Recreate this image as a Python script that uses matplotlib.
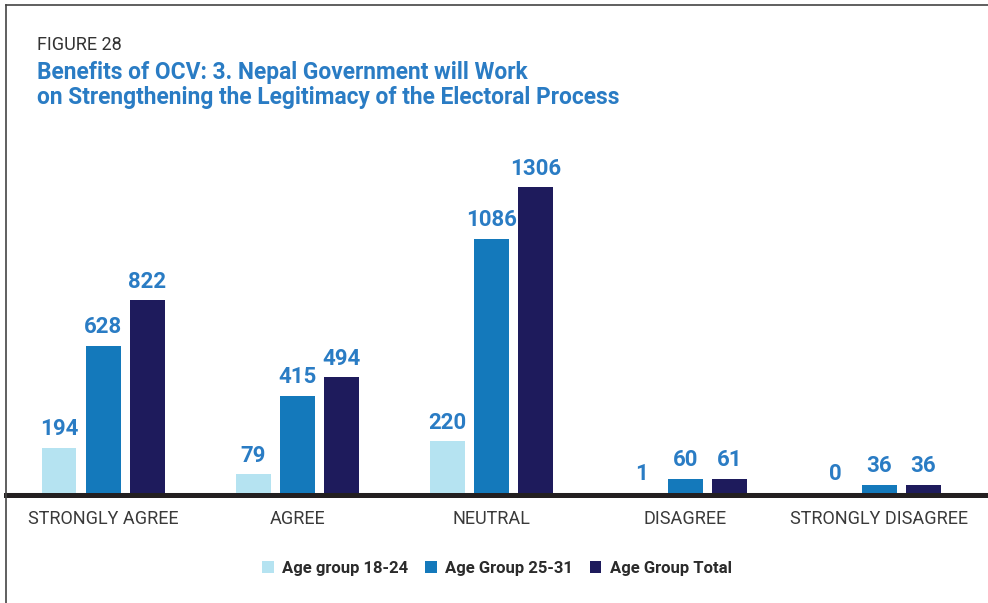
import matplotlib.pyplot as plt
import numpy as np
from matplotlib.lines import Line2D
from matplotlib.patches import Patch

categories = ["STRONGLY AGREE", "AGREE", "NEUTRAL", "DISAGREE", "STRONGLY DISAGREE"]
series_names = ["Age group 18-24", "Age Group 25-31", "Age Group Total"]
age_18_24 = [194, 79, 220, 1, 0]
age_25_31 = [628, 415, 1086, 60, 36]
age_total = [822, 494, 1306, 61, 36]

colors = ["#b5e3f1", "#1479bb", "#1e1b5c"]
label_blue = "#2a7cc4"

plt.rcParams["font.family"] = ["Roboto", "DejaVu Sans"]

fig = plt.figure(figsize=(9.88, 6.03), dpi=100)
ax = fig.add_axes([6 / 988, 110 / 603, 982 / 988, 373 / 603])

x = np.arange(len(categories))
width = 0.18
offset = 0.227

for i, (vals, col) in enumerate(zip([age_18_24, age_25_31, age_total], colors)):
    pos = x + (i - 1) * offset
    ax.bar(pos, vals, width, color=col, zorder=2)
    for p, v in zip(pos, vals):
        ax.annotate(str(v), (p, v), xytext=(0, 9), textcoords="offset points",
                    ha="center", va="baseline", color=label_blue,
                    fontsize=16, fontweight="bold")

ax.set_xlim(-0.5, 4.56)
ax.set_ylim(0, 1592)
# thick baseline sitting just under the bars
ax.axhline(-10, color="#231f20", lw=3.6, zorder=3, clip_on=False)
ax.axhline(0, color="#bbbbbb", lw=0.8, zorder=1, clip_on=False)
for s in ax.spines.values():
    s.set_visible(False)
ax.set_yticks([])
ax.set_xticks(x)
ax.set_xticklabels(categories, fontsize=13, color="#3a3a3a")
ax.tick_params(axis="x", length=0, pad=12)

# frame lines around the figure
fig.add_artist(Line2D([6 / 988, 6 / 988], [0, 1 - 5 / 603], color="#444444", lw=1.2))
fig.add_artist(Line2D([6 / 988, 1], [1 - 5 / 603, 1 - 5 / 603], color="#444444", lw=1.2))

fig.text(37 / 988, 1 - 50 / 603, "FIGURE 28", fontsize=13, color="#333333")
fig.text(37 / 988, 1 - 79 / 603, "Benefits of OCV: 3. Nepal Government will Work",
         fontsize=16.4, fontweight="bold", color="#2a7cc4")
fig.text(37 / 988, 1 - 104 / 603, "on Strengthening the Legitimacy of the Electoral Process",
         fontsize=16.4, fontweight="bold", color="#2a7cc4")

handles = [Patch(facecolor=c) for c in colors]
leg = fig.legend(handles, series_names, loc="center", bbox_to_anchor=(497 / 988, 1 - 568 / 603),
                 ncol=3, frameon=False, handlelength=0.7, handleheight=0.7,
                 handletextpad=0.5, columnspacing=1.0,
                 prop={"size": 12, "weight": "bold"})
for t in leg.get_texts():
    t.set_color("#2b2b2b")

fig.savefig("out.png", dpi=100)
